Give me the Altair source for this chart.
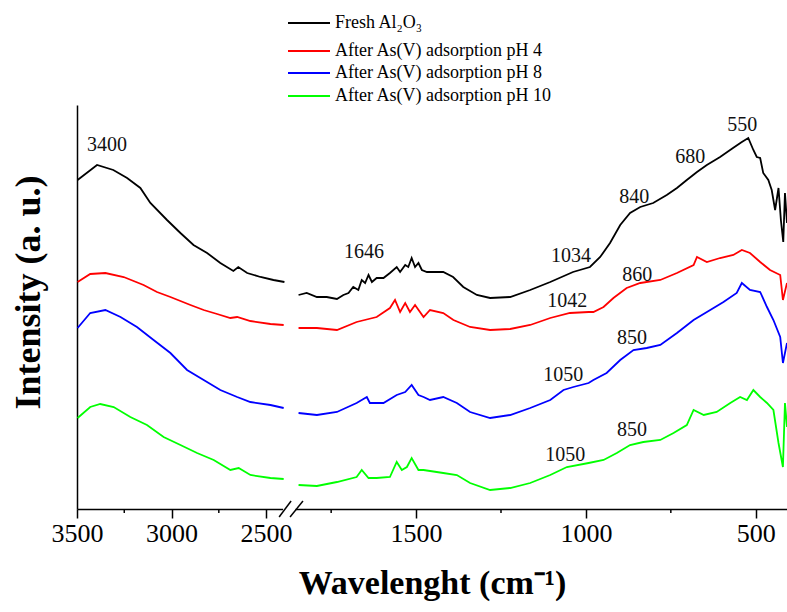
import altair as alt
import pandas as pd

SERIES = ["Fresh Al₂O₃", "After As(V) adsorption pH 4",
          "After As(V) adsorption pH 8", "After As(V) adsorption pH 10"]
COLORS = ["#000000", "#ff0000", "#0000ff", "#00ff00"]

# ---- spectra (wavenumber cm-1, intensity a.u.) ; left part before the axis break, right part after
black_left_wn = [3497, 3394, 3308, 3235, 3165, 3112, 3024, 2953, 2884, 2812, 2742, 2673, 2647, 2600, 2530, 2461, 2403]
black_left_i = [329, 344, 339, 331, 321, 306, 289, 276, 264, 256, 246, 238, 242, 236, 232, 229, 227]
black_right_wn = [1846, 1822, 1792, 1763, 1733, 1714, 1699, 1685, 1670, 1660, 1650, 1640, 1630, 1616, 1596, 1577,
                  1557, 1547, 1532, 1523, 1513, 1503, 1493, 1483, 1468, 1420, 1391, 1361, 1321, 1282, 1223, 1164,
                  1105, 1038, 988, 958, 929, 899, 870, 840, 802, 762, 732, 703, 673, 644, 605, 567, 541, 522,
                  507, 497, 487, 478, 463, 453, 443, 433, 426, 419, 414, 408]
black_right_i = [214, 216, 212, 212, 210, 214, 216, 222, 219, 229, 226, 234, 227, 231, 231, 236,
                 242, 237, 244, 242, 251, 242, 246, 239, 237, 237, 232, 222, 214, 211, 212, 219,
                 227, 237, 242, 252, 266, 284, 296, 302, 306, 314, 321, 329, 337, 344, 352, 361, 367, 371,
                 359, 352, 351, 336, 329, 319, 299, 321, 289, 267, 316, 286]

red_left_wn = [3497, 3430, 3350, 3253, 3148, 3077, 3006, 2900, 2830, 2759, 2689, 2653, 2583, 2477, 2407]
red_left_i = [227, 235, 236, 232, 224, 217, 212, 204, 199, 195, 191, 192, 188, 185, 184]
red_right_wn = [1846, 1792, 1733, 1675, 1616, 1577, 1562, 1547, 1532, 1518, 1503, 1478, 1459, 1420, 1390, 1341,
                1282, 1223, 1164, 1105, 1047, 992, 978, 948, 919, 880, 840, 781, 732, 683, 673, 644, 605, 566,
                541, 517, 487, 458, 428, 420, 408]
red_right_i = [181, 181, 179, 187, 192, 201, 209, 197, 206, 197, 204, 192, 199, 196, 189, 182,
               179, 180, 184, 191, 196, 197, 197, 202, 211, 221, 226, 229, 236, 244, 252, 247, 251, 254,
               259, 256, 247, 239, 234, 209, 226]

blue_left_wn = [3497, 3430, 3350, 3270, 3183, 3095, 3006, 2918, 2830, 2742, 2653, 2583, 2477, 2407]
blue_left_i = [181, 196, 199, 192, 182, 169, 156, 139, 129, 119, 112, 107, 104, 101]
blue_right_wn = [1846, 1792, 1733, 1675, 1645, 1636, 1596, 1557, 1532, 1513, 1493, 1478, 1459, 1420, 1380, 1341,
                 1282, 1223, 1164, 1105, 1066, 1037, 992, 978, 939, 899, 860, 821, 781, 732, 683, 634, 595,
                 556, 541, 517, 487, 467, 448, 428, 420, 408]
blue_right_i = [96, 94, 97, 106, 112, 106, 106, 114, 117, 124, 114, 112, 109, 112, 106, 97,
                91, 94, 101, 109, 119, 122, 126, 129, 136, 149, 159, 161, 164, 176, 189, 199, 207,
                216, 226, 219, 217, 202, 189, 172, 146, 166]

green_left_wn = [3497, 3430, 3377, 3306, 3218, 3130, 3042, 2953, 2865, 2777, 2689, 2645, 2583, 2477, 2407]
green_left_i = [91, 102, 105, 102, 92, 84, 72, 64, 56, 49, 39, 41, 34, 31, 30]
green_right_wn = [1846, 1792, 1733, 1675, 1660, 1640, 1616, 1577, 1557, 1542, 1527, 1513, 1493, 1478, 1420, 1380,
                  1341, 1282, 1223, 1164, 1105, 1056, 992, 948, 909, 870, 831, 781, 742, 703, 683, 653, 615,
                  575, 546, 526, 507, 487, 467, 448, 433, 420, 414, 408]
green_right_i = [24, 23, 27, 32, 39, 31, 31, 32, 47, 39, 42, 51, 39, 39, 36, 34,
                 26, 19, 21, 26, 34, 42, 46, 49, 56, 64, 67, 69, 76, 84, 99, 94, 97,
                 106, 112, 109, 119, 112, 106, 99, 66, 42, 106, 82]

# ---- peak annotations
peak_labels = ["3400", "1646", "1034", "1042", "1050", "1050", "840", "680", "550", "860", "850", "850"]
peak_wn = [3341, 1653, 1044, 1055, 1067, 1061, 858, 693, 540, 849, 864, 864]
peak_i = [364, 257, 253, 208, 134, 54, 312, 352, 384, 234, 171, 79]

# ---- legend rows (vertical position in intensity units, above the plot area)
legend_i = [486, 458, 436, 413]

# ---- axis
major_ticks = [3500, 3000, 2500, 1500, 1000, 500]
minor_ticks = [3250, 2750, 1750, 1250, 750]
x_domain = [3500, 2400, 1880, 408]      # broken axis: two linear pieces
break_gap = [2410, 1855]
slash_x1 = [2431, 1871]
slash_x2 = [1868, 1833]

W, H = 710, 404

rows = []
for name, lw, li, rw, ri in [
    (SERIES[0], black_left_wn, black_left_i, black_right_wn, black_right_i),
    (SERIES[1], red_left_wn, red_left_i, red_right_wn, red_right_i),
    (SERIES[2], blue_left_wn, blue_left_i, blue_right_wn, blue_right_i),
    (SERIES[3], green_left_wn, green_left_i, green_right_wn, green_right_i),
]:
    for w, v in zip(lw, li):
        rows.append({"series": name, "part": "left", "wn": w, "I": v})
    for w, v in zip(rw, ri):
        rows.append({"series": name, "part": "right", "wn": w, "I": v})
df = pd.DataFrame(rows)

FONT = "Liberation Serif"
xscale = alt.Scale(domain=x_domain, range=[0, 208, 210, W])
yscale = alt.Scale(domain=[0, H])
cscale = alt.Scale(domain=SERIES, range=COLORS)

lines = alt.Chart(df).mark_line(strokeWidth=1.8).encode(
    x=alt.X("wn:Q", scale=xscale,
            axis=alt.Axis(values=major_ticks, format="d", title="Wavelenght (cm⁻¹)", grid=False,
                          tickSize=9, tickWidth=1.5, domainWidth=1.5, domainColor="black", tickColor="black",
                          labelFlush=False, labelOverlap=False,
                          labelFont=FONT, labelFontSize=26, labelColor="black", labelPadding=2,
                          titleFont=FONT, titleFontSize=34, titleFontWeight="bold", titleColor="black",
                          titlePadding=20)),
    y=alt.Y("I:Q", scale=yscale,
            axis=alt.Axis(title="Intensity (a. u.)", grid=False, ticks=False, labels=False,
                          domainWidth=1.5, domainColor="black",
                          titleFont=FONT, titleFontSize=36, titleFontWeight="bold", titleColor="black",
                          titlePadding=30, titleY=187)),
    color=alt.Color("series:N", scale=cscale, legend=None),
    detail="part:N",
)

leg_df = pd.DataFrame({"series": SERIES, "ly": legend_i})
leg_lines = alt.Chart(leg_df).mark_rule(strokeWidth=2).encode(
    x=alt.value(211), x2=alt.value(253), y=alt.Y("ly:Q", scale=yscale),
    color=alt.Color("series:N", scale=cscale, legend=None))
leg_text = alt.Chart(leg_df).mark_text(font=FONT, fontSize=18, color="black", align="left",
                                       baseline="middle").encode(
    x=alt.value(258), y=alt.Y("ly:Q", scale=yscale), text="series:N")

minor_df = pd.DataFrame({"wn": minor_ticks, "y0": [0] * len(minor_ticks), "y1": [-4] * len(minor_ticks)})
minor = alt.Chart(minor_df).mark_rule(color="black", strokeWidth=1.5).encode(
    x=alt.X("wn:Q", scale=xscale), y=alt.Y("y0:Q", scale=yscale), y2="y1:Q")

gap_df = pd.DataFrame({"x1": [break_gap[0]], "x2": [break_gap[1]], "y0": [-3], "y1": [3]})
gap = alt.Chart(gap_df).mark_rect(color="white").encode(
    x=alt.X("x1:Q", scale=xscale), x2="x2:Q", y=alt.Y("y0:Q", scale=yscale), y2="y1:Q")

slash_df = pd.DataFrame({"x1": slash_x1, "x2": slash_x2, "y0": [-8, -8], "y1": [8, 8]})
slashes = alt.Chart(slash_df).mark_rule(color="black", strokeWidth=1.5).encode(
    x=alt.X("x1:Q", scale=xscale), x2="x2:Q", y=alt.Y("y0:Q", scale=yscale), y2="y1:Q")

ann_df = pd.DataFrame({"label": peak_labels, "wn": peak_wn, "I": peak_i})
ann = alt.Chart(ann_df).mark_text(font=FONT, fontSize=20, color="#111", baseline="middle").encode(
    x=alt.X("wn:Q", scale=xscale), y=alt.Y("I:Q", scale=yscale), text="label:N")

chart = alt.layer(lines, minor, gap, slashes, ann, leg_lines, leg_text).properties(
    width=W, height=H,
    autosize=alt.AutoSizeParams(type="none"),
    padding={"left": 77, "top": 105, "right": 0, "bottom": 103},
    background="white",
).configure_view(stroke="transparent")

chart.save("out.html", embed_options={"renderer": "svg", "actions": False})
